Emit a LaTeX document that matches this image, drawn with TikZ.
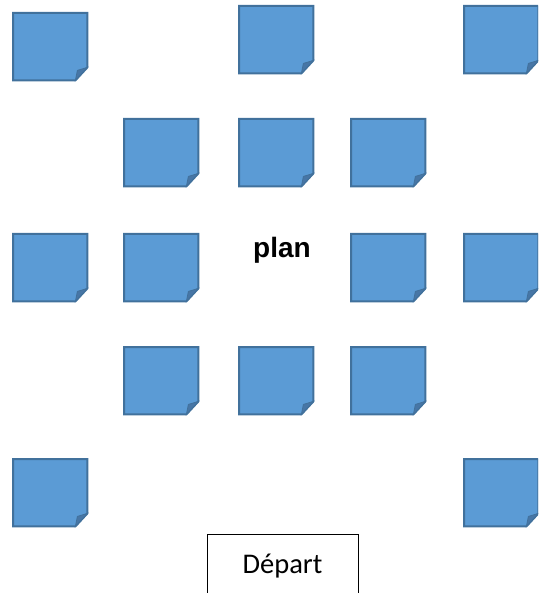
\documentclass[tikz,border=0pt]{standalone}
\usepackage{fontspec}
\setmainfont{Carlito}
\newfontfamily\arialfont{Liberation Sans}
\usepackage{xcolor}
\usetikzlibrary{positioning,calc}
\definecolor{noteblue}{HTML}{5B9BD5}
\definecolor{noteline}{HTML}{41719C}
\definecolor{notefold}{HTML}{4776A6}

\begin{document}
\begin{tikzpicture}[
    x=1pt, y=1pt,
    sticky/.style={
        minimum width=74pt,
        minimum height=67pt,
        inner sep=0pt,
        anchor=north west
    },
    note/.style={
        fill=noteblue,
        draw=noteline,
        line width=2pt
    },
    fold/.style={
        fill=notefold,
        draw=noteline,
        line width=0.8pt
    },
    title/.style={
        font=\arialfont\bfseries\fontsize{28}{30}\selectfont,
        anchor=base,
        inner sep=0pt
    },
    startbox/.style={
        draw=black,
        line width=0.9pt,
        minimum width=151pt,
        minimum height=70pt,
        anchor=north,
        inner sep=0pt
    },
    starttext/.style={
        font=\fontsize{28.5}{30}\selectfont,
        anchor=base,
        inner sep=0pt
    }
]
\useasboundingbox (0,0) rectangle (538,-593);
\clip (0,0) rectangle (538,-593);

% sticky notes
\foreach \nm/\px/\py in {
    a1/13/13, a3/239/6, a5/464/6,
    b2/124/119, b3/239/119, b4/351/119,
    c1/13/234, c2/124/234, c4/351/234, c5/464/234,
    d2/124/347, d3/239/347, d4/351/347,
    e1/13/459, e5/464/459}{
  \node[sticky] (\nm) at (\px,-\py) {};
  \filldraw[note] (\nm.north west) -- (\nm.north east)
    -- ([yshift=13]\nm.south east) -- ([xshift=-12]\nm.south east)
    -- (\nm.south west) -- cycle;
  \filldraw[fold] ([xshift=-12]\nm.south east)
    .. controls ([xshift=-11,yshift=5]\nm.south east) .. ([xshift=-10,yshift=10]\nm.south east)
    .. controls ([xshift=-5,yshift=11]\nm.south east) .. ([yshift=13]\nm.south east) -- cycle;
}

% labels
\node[title] (plan) at (282,-258) {plan};
\node[startbox] (departbox) at (282.5,-534) {};
\node[starttext] (depart) at (282.5,-573) {Départ};

\end{tikzpicture}
\end{document}
